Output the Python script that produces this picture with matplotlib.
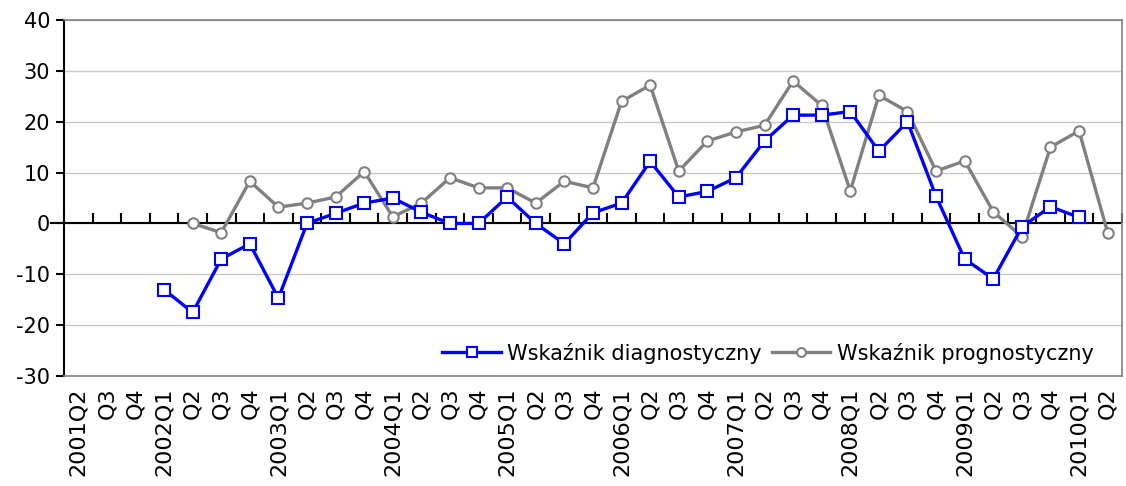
import numpy as np
import matplotlib
matplotlib.use('Agg')
import matplotlib.pyplot as plt

plt.rcParams['font.family'] = ['DejaVu Sans']
plt.rcParams['axes.unicode_minus'] = False

# quarters 2001Q2 .. 2010Q2
labels = ['2001Q2', 'Q3', 'Q4',
          '2002Q1', 'Q2', 'Q3', 'Q4',
          '2003Q1', 'Q2', 'Q3', 'Q4',
          '2004Q1', 'Q2', 'Q3', 'Q4',
          '2005Q1', 'Q2', 'Q3', 'Q4',
          '2006Q1', 'Q2', 'Q3', 'Q4',
          '2007Q1', 'Q2', 'Q3', 'Q4',
          '2008Q1', 'Q2', 'Q3', 'Q4',
          '2009Q1', 'Q2', 'Q3', 'Q4',
          '2010Q1', 'Q2']

nan = np.nan
diagnostyczny = [nan, nan, nan,
                 -13, -17.5, -7, -4,
                 -14.7, 0, 2, 4,
                 5, 2.2, 0, 0,
                 5.2, 0, -4, 2.1,
                 4, 12.2, 5.2, 6.3,
                 9, 16.2, 21.3, 21.3,
                 22, 14.2, 20, 5.3,
                 -7, -10.9, -0.7, 3.3,
                 1.2, nan]

prognostyczny = [nan, nan, nan,
                 nan, 0, -1.8, 8.3,
                 3.2, 4, 5.2, 10.2,
                 1.3, 4, 9, 7,
                 7, 4, 8.3, 7,
                 24, 27.2, 10.3, 16.2,
                 18, 19.3, 28, 23.2,
                 6.4, 25.2, 22, 10.3,
                 12.3, 2.3, -2.6, 15,
                 18.2, -1.8]

x = np.arange(len(labels))

fig = plt.figure(figsize=(11.26, 4.86), dpi=100)
ax = fig.add_axes([0.0568, 0.2263, 0.9396, 0.7325])

ax.set_ylim(-30, 40)
ax.set_xlim(-0.5, len(labels) - 0.5)
ax.set_yticks(np.arange(-30, 41, 10))
ax.yaxis.grid(True, color='#c8c8c8', linewidth=1)
ax.set_axisbelow(True)

for side in ['top', 'right', 'bottom']:
    ax.spines[side].set_color('#808080')
    ax.spines[side].set_linewidth(1.2)
ax.spines['left'].set_color('black')
ax.spines['left'].set_linewidth(1.5)

ax.tick_params(axis='y', direction='out', length=6, width=1.5,
               labelsize=15, pad=4)
ax.set_xticks(x)
ax.set_xticklabels(labels, rotation=90, fontsize=16)
ax.tick_params(axis='x', length=0, pad=8)

# category axis at zero with boundary ticks pointing up
ax.axhline(0, color='black', linewidth=1.5, zorder=2)
zero_ax = ax.secondary_xaxis(30 / 70)
zero_ax.set_xticks(np.arange(-0.5, len(labels), 1.0))
zero_ax.set_xticklabels([])
zero_ax.tick_params(direction='in', length=7, width=1.5, color='black')
zero_ax.spines['bottom'].set_visible(False)
ax.plot([-0.012, 0], [30 / 70, 30 / 70], transform=ax.transAxes,
        color='black', linewidth=1.5, clip_on=False)

ax.plot(x, diagnostyczny, color='#0000ff', linewidth=2.4, marker='s',
        markersize=8, markerfacecolor='white', markeredgecolor='#0000ff',
        markeredgewidth=1.5, label='Wskaźnik diagnostyczny', zorder=4)
ax.plot(x, prognostyczny, color='#808080', linewidth=2.4, marker='o',
        markersize=7.5, markerfacecolor='white', markeredgecolor='#808080',
        markeredgewidth=1.5, label='Wskaźnik prognostyczny', zorder=3)

ax.legend(loc='lower right', frameon=False, fontsize=15, handlelength=2.8,
          ncol=2, columnspacing=0.5, handletextpad=0.3, markerscale=0.85,
          borderaxespad=0.2, bbox_to_anchor=(0.985, 0.0))

fig.savefig('out.png', dpi=100)
